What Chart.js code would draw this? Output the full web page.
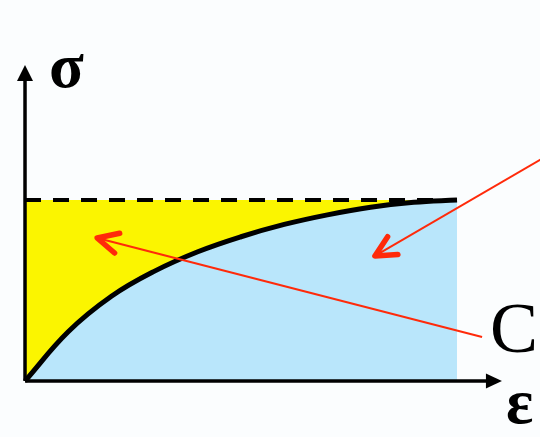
<!DOCTYPE html>
<html>
<head>
<meta charset="utf-8">
<title>Stress-strain</title>
<script src="https://cdn.jsdelivr.net/npm/chart.js@4.4.1/dist/chart.umd.min.js"></script>
<style>
    html, body { margin: 0; padding: 0; background: #fbfdfe; }
    #wrap { width: 540px; height: 437px; position: relative; }
</style>
</head>
<body>
<div id="wrap"><canvas id="chart-sigma-eps"></canvas></div>
<script>
/* ---- data (strain normalised to 1 at the curve end, stress to 1 at the plateau) ---- */
const strain = [0, 0.1, 0.2, 0.3, 0.4, 0.5, 0.6, 0.7, 0.8, 0.9, 1.0];
const stress = [0, 0.272, 0.468, 0.607, 0.714, 0.797, 0.865, 0.918, 0.960, 0.987, 1.0];
const stressCap = strain.map(() => 1.0);

const strainAxisEnd = 1.104;
const stressAxisEnd = 1.746;

// red pointers: [from, to] in (strain, stress)
const pointerA = [[1.204, 1.238], [0.810, 0.691]];
const pointerB = [[1.058, 0.243], [0.167, 0.790]];

const labels = ['σ', 'ε', 'C'];

const RED = '#ff2a0a';
const BLUE = '#b9e6fb';
const YELLOW = '#fbf500';

const toXY = (xs, ys) => xs.map((x, i) => ({ x, y: ys[i] }));
const seg = p => p.map(([x, y]) => ({ x, y }));

const arrowPlugin = {
    id: 'arrows',
    afterDatasetsDraw(chart) {
        const { ctx, scales: { x, y } } = chart;
        const px = v => x.getPixelForValue(v);
        const py = v => y.getPixelForValue(v);
        ctx.save();

        // axis heads (filled triangles)
        ctx.fillStyle = '#000';
        const ox = px(0), oy = py(0);
        const yt = py(stressAxisEnd);
        ctx.beginPath();
        ctx.moveTo(ox, yt);
        ctx.lineTo(ox - 8, yt + 16);
        ctx.lineTo(ox + 8, yt + 16);
        ctx.closePath();
        ctx.fill();
        const xt = px(strainAxisEnd);
        ctx.beginPath();
        ctx.moveTo(xt, oy);
        ctx.lineTo(xt - 16, oy - 7.5);
        ctx.lineTo(xt - 16, oy + 7.5);
        ctx.closePath();
        ctx.fill();

        // pointer heads (open chevrons)
        ctx.strokeStyle = RED;
        ctx.lineWidth = 5.5;
        ctx.lineCap = 'round';
        ctx.lineJoin = 'round';
        [pointerA, pointerB].forEach(p => {
            const x0 = px(p[0][0]), y0 = py(p[0][1]);
            const x1 = px(p[1][0]), y1 = py(p[1][1]);
            const a = Math.atan2(y0 - y1, x0 - x1);
            const L = 23, spread = 0.46;
            ctx.beginPath();
            ctx.moveTo(x1 + L * Math.cos(a - spread), y1 + L * Math.sin(a - spread));
            ctx.lineTo(x1, y1);
            ctx.lineTo(x1 + L * Math.cos(a + spread), y1 + L * Math.sin(a + spread));
            ctx.stroke();
        });

        // labels
        ctx.fillStyle = '#000';
        ctx.textBaseline = 'alphabetic';
        ctx.textAlign = 'left';
        ctx.font = "bold 64px 'Liberation Serif', 'DejaVu Serif', serif";
        ctx.fillText(labels[0], ox + 24, 87);
        ctx.fillText(labels[1], 506, 423);
        ctx.font = "72px 'Liberation Serif', 'DejaVu Serif', serif";
        ctx.fillText(labels[2], 490, 352);
        ctx.restore();
    },
};

const ctx = document.getElementById('chart-sigma-eps');
new Chart(ctx, {
    type: 'line',
    data: {
        datasets: [
            { data: seg(pointerA), borderColor: RED, borderWidth: 2 },
            { data: seg(pointerB), borderColor: RED, borderWidth: 2 },
            { data: [{ x: 0, y: 0 }, { x: strainAxisEnd - 0.02, y: 0 }], borderColor: '#000', borderWidth: 3.5 },
            { data: [{ x: 0, y: 0 }, { x: 0, y: stressAxisEnd - 0.05 }], borderColor: '#000', borderWidth: 3.5 },
            {
                data: toXY(strain, stress),
                borderColor: '#000',
                borderWidth: 5,
                tension: 0.4,
                fill: 'origin',
                backgroundColor: BLUE,
            },
            {
                data: toXY(strain, stressCap),
                borderColor: '#000',
                borderWidth: 4,
                borderDash: [16, 12],
                fill: '-1',
                backgroundColor: YELLOW,
            },
        ],
    },
    options: {
        responsive: true,
        maintainAspectRatio: false,
        animation: false,
        layout: { padding: 0 },
        elements: { point: { radius: 0, hoverRadius: 0 } },
        scales: {
            x: { type: 'linear', display: false, min: -0.0579, max: 1.1921 },
            y: { type: 'linear', display: false, min: -0.3094, max: 2.105 },
        },
        plugins: {
            legend: { display: false },
            tooltip: { enabled: false },
        },
    },
    plugins: [arrowPlugin],
});
</script>
</body>
</html>
